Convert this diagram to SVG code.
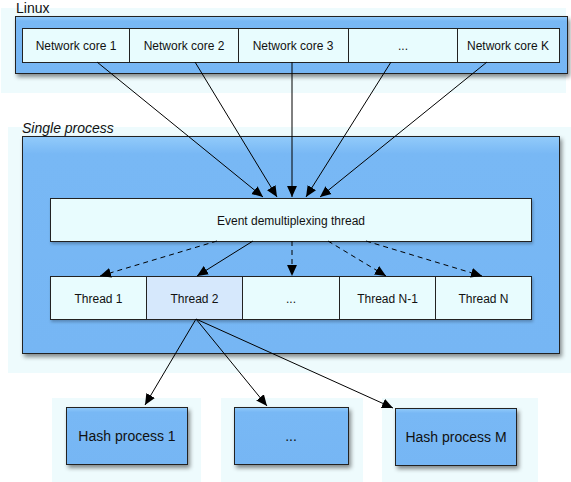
<svg xmlns="http://www.w3.org/2000/svg" width="571" height="482" viewBox="0 0 571 482">
<defs>
<filter id="sh" x="-10%" y="-10%" width="125%" height="130%">
<feDropShadow dx="2" dy="3" stdDeviation="2" flood-color="#000" flood-opacity="0.45"/>
</filter>
<filter id="sh2" x="-10%" y="-20%" width="125%" height="150%">
<feDropShadow dx="1" dy="2" stdDeviation="1.5" flood-color="#000" flood-opacity="0.25"/>
</filter>
<linearGradient id="bl" x1="0" y1="0" x2="0" y2="1">
<stop offset="0" stop-color="#92cbfa"/>
<stop offset="0.08" stop-color="#78b8f5"/>
<stop offset="1" stop-color="#76b6f4"/>
</linearGradient>
<marker id="ah" viewBox="0 0 10 10" refX="10" refY="5" markerWidth="11" markerHeight="11" markerUnits="userSpaceOnUse" orient="auto">
<path d="M0,0.5 L10,5 L0,9.5 z" fill="#000"/>
</marker>
</defs>
<style>
.bg{fill:#eefbfd;}
.blue{fill:url(#bl);stroke:#222;stroke-width:1;}
.cell{fill:#e8fcfe;stroke:#222;stroke-width:1;}
.t{font-family:"Liberation Sans",Arial,sans-serif;font-size:12px;fill:#111;text-anchor:middle;}
.tl{font-family:"Liberation Sans",Arial,sans-serif;font-size:14px;fill:#111;}
.th{font-family:"Liberation Sans",Arial,sans-serif;font-size:14px;fill:#111;text-anchor:middle;}
.c{stroke:#000;stroke-width:1;fill:none;marker-end:url(#ah);}
.d{stroke-dasharray:5,4;}
</style>
<rect width="571" height="482" fill="#fff"/>

<g id="linux">
<rect class="bg" x="1" y="8" width="565" height="85"/>
<rect class="blue" x="15.5" y="16.5" width="552" height="57" filter="url(#sh)"/>
<text class="tl" x="16" y="13">Linux</text>
</g>
<g id="net1"><rect class="cell" x="22.5" y="28.5" width="107" height="34"/><text class="t" x="76" y="50">Network core 1</text></g>
<g id="net2"><rect class="cell" x="129.5" y="28.5" width="109" height="34"/><text class="t" x="184" y="50">Network core 2</text></g>
<g id="net3"><rect class="cell" x="238.5" y="28.5" width="110" height="34"/><text class="t" x="293" y="50">Network core 3</text></g>
<g id="netdots"><rect class="cell" x="348.5" y="28.5" width="109" height="34"/><text class="t" x="403" y="50">...</text></g>
<g id="netK"><rect class="cell" x="457.5" y="28.5" width="102" height="34"/><text class="t" x="508" y="50">Network core K</text></g>

<g id="single">
<rect class="bg" x="8" y="127" width="563" height="246"/>
<rect class="blue" x="22.5" y="136.5" width="537" height="217" filter="url(#sh)"/>
<text class="tl" x="22" y="133" font-style="italic">Single process</text>
</g>
<g id="demux"><rect class="cell" x="50.5" y="198.5" width="481" height="43" filter="url(#sh2)"/><text class="t" x="291" y="224.5">Event demultiplexing thread</text></g>
<g id="threads" filter="url(#sh2)">
<rect class="cell" x="50.5" y="276.5" width="481" height="43"/>
</g>
<g id="th1"><rect class="cell" x="50.5" y="276.5" width="96" height="43"/><text class="t" x="98.5" y="302.5">Thread 1</text></g>
<g id="th2"><rect class="cell" x="146.5" y="276.5" width="96" height="43" style="fill:#d6e8fc"/><text class="t" x="194.5" y="302.5">Thread 2</text></g>
<g id="thdots"><rect class="cell" x="242.5" y="276.5" width="97" height="43"/><text class="t" x="291" y="302.5">...</text></g>
<g id="thN1"><rect class="cell" x="339.5" y="276.5" width="96" height="43"/><text class="t" x="387.5" y="302.5">Thread N-1</text></g>
<g id="thN"><rect class="cell" x="435.5" y="276.5" width="96" height="43"/><text class="t" x="483.5" y="302.5">Thread N</text></g>

<g id="hash1">
<rect class="bg" x="52" y="398" width="149" height="84"/>
<rect class="blue" x="66.5" y="407.5" width="121" height="57" filter="url(#sh)"/>
<text class="th" x="127" y="441">Hash process 1</text>
</g>
<g id="hashdots">
<rect class="bg" x="221" y="398" width="142" height="84"/>
<rect class="blue" x="234.5" y="407.5" width="114" height="57" filter="url(#sh)"/>
<text class="th" x="291" y="441">...</text>
</g>
<g id="hashM">
<rect class="bg" x="382" y="398" width="156" height="84"/>
<rect class="blue" x="395.5" y="408.5" width="121" height="57" filter="url(#sh)"/>
<text class="th" x="456" y="442">Hash process M</text>
</g>

<g id="connectors">
<line class="c" x1="97" y1="62" x2="263" y2="197"/>
<line class="c" x1="195" y1="62" x2="277" y2="197"/>
<line class="c" x1="292" y1="62" x2="292" y2="197"/>
<line class="c" x1="391" y1="62" x2="306" y2="197"/>
<line class="c" x1="487" y1="62" x2="320" y2="197"/>
<line class="c d" x1="217" y1="241" x2="100" y2="276"/>
<line class="c" x1="253" y1="241" x2="197" y2="276"/>
<line class="c d" x1="292" y1="241" x2="292" y2="276"/>
<line class="c d" x1="328" y1="241" x2="386" y2="276"/>
<line class="c d" x1="366" y1="241" x2="482" y2="276"/>
<line class="c" x1="196" y1="319" x2="145" y2="405"/>
<line class="c" x1="196" y1="319" x2="267" y2="406"/>
<line class="c" x1="196" y1="319" x2="393" y2="408"/>
</g>
</svg>
